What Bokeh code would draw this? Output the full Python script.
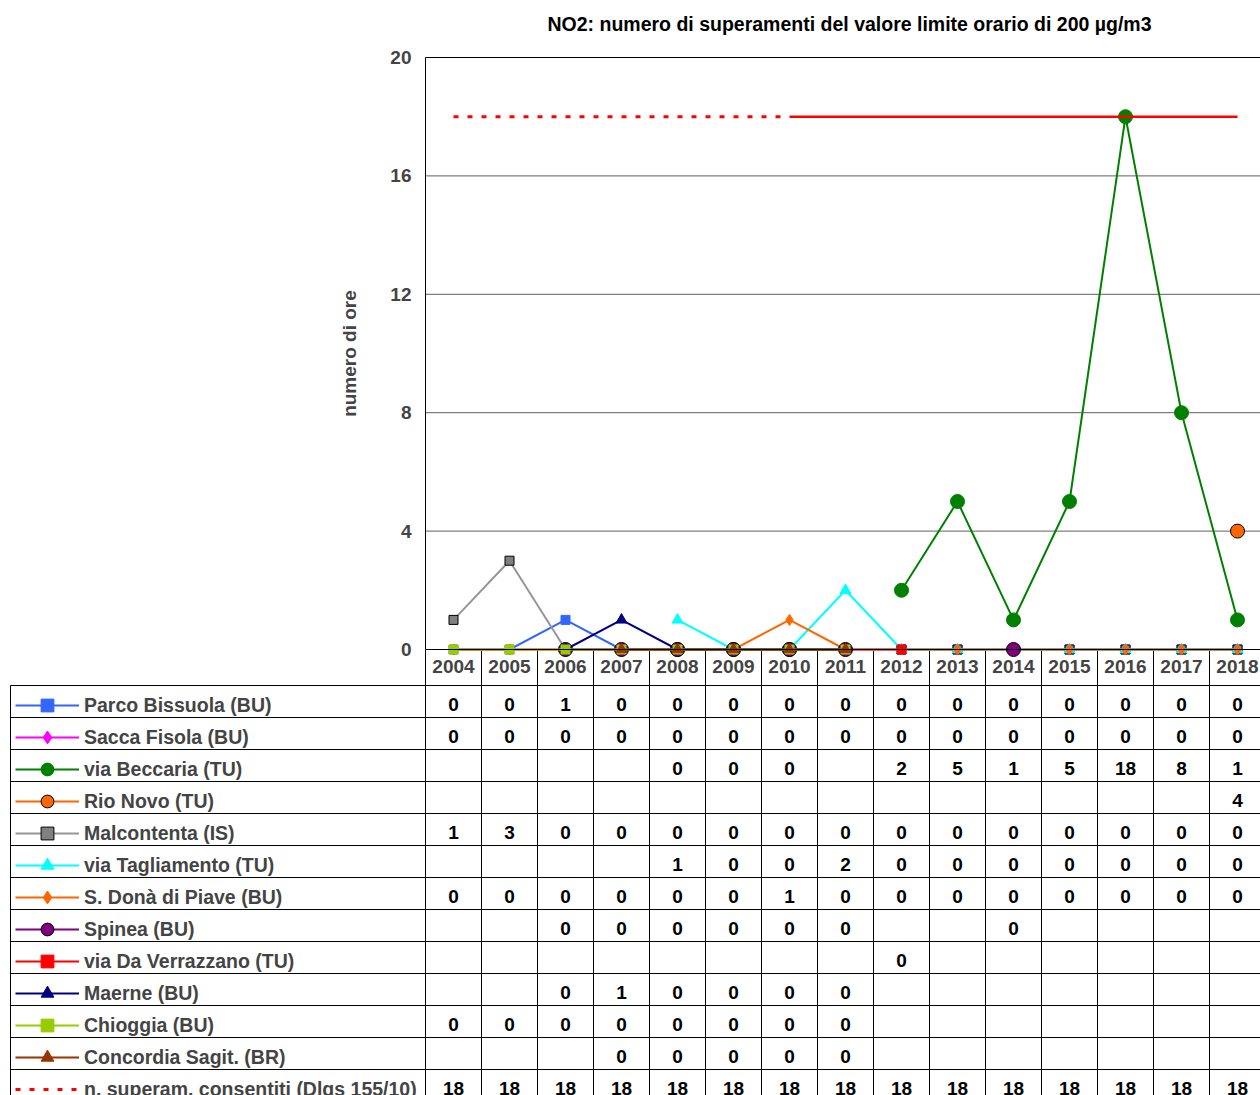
import numpy as np
from bokeh.plotting import figure
from bokeh.models import (Range1d, LinearAxis, FixedTicker, ColumnDataSource,
                          Legend, LegendItem, Title)
from bokeh.core.properties import value
from bokeh.embed import file_html
from bokeh.resources import INLINE

N = np.nan
years = list(range(2004, 2019))
y_ticks = [0, 4, 8, 12, 16, 20]

names = ["Parco Bissuola (BU)", "Sacca Fisola (BU)", "via Beccaria (TU)", "Rio Novo (TU)",
         "Malcontenta (IS)", "via Tagliamento (TU)", "S. Donà di Piave (BU)", "Spinea (BU)",
         "via Da Verrazzano (TU)", "Maerne (BU)", "Chioggia (BU)", "Concordia Sagit. (BR)",
         "n. superam. consentiti (Dlgs 155/10)"]

parco = [0, 0, 1, 0, 0, 0, 0, 0, 0, 0, 0, 0, 0, 0, 0]
sacca = [0, 0, 0, 0, 0, 0, 0, 0, 0, 0, 0, 0, 0, 0, 0]
beccaria = [N, N, N, N, 0, 0, 0, N, 2, 5, 1, 5, 18, 8, 1]
rio_novo = [N, N, N, N, N, N, N, N, N, N, N, N, N, N, 4]
malcontenta = [1, 3, 0, 0, 0, 0, 0, 0, 0, 0, 0, 0, 0, 0, 0]
tagliamento = [N, N, N, N, 1, 0, 0, 2, 0, 0, 0, 0, 0, 0, 0]
san_dona = [0, 0, 0, 0, 0, 0, 1, 0, 0, 0, 0, 0, 0, 0, 0]
spinea = [N, N, 0, 0, 0, 0, 0, 0, N, N, 0, N, N, N, N]
verrazzano = [N, N, N, N, N, N, N, N, 0, N, N, N, N, N, N]
maerne = [N, N, 0, 1, 0, 0, 0, 0, N, N, N, N, N, N, N]
chioggia = [0, 0, 0, 0, 0, 0, 0, 0, N, N, N, N, N, N, N]
concordia = [N, N, N, 0, 0, 0, 0, 0, N, N, N, N, N, N, N]
limite = [18, 18, 18, 18, 18, 18, 18, 18, 18, 18, 18, 18, 18, 18, 18]

series = [parco, sacca, beccaria, rio_novo, malcontenta, tagliamento, san_dona,
          spinea, verrazzano, maerne, chioggia, concordia]

# styles: (line colour, marker, marker size, marker fill, marker outline)
styles = [
    ("#3366FF", "square", 9, "#3366FF", "#3366FF"),
    ("#FF00FF", "diamond", 11, "#FF00FF", "#FF00FF"),
    ("#008000", "circle", 14, "#008000", "#008000"),
    ("#FF6600", "circle", 14, "#FF6600", "#000000"),
    ("#969696", "square", 9, "#808080", "#000000"),
    ("#00FFFF", "triangle", 11, "#00FFFF", "#00FFFF"),
    ("#FF6600", "diamond", 11, "#FF6600", "#FF6600"),
    ("#800080", "circle", 14, "#800080", "#000000"),
    ("#FF0000", "square", 9, "#FF0000", "#FF0000"),
    ("#000080", "triangle", 11, "#000080", "#000080"),
    ("#99CC00", "square", 9, "#99CC00", "#99CC00"),
    ("#993300", "triangle", 11, "#993300", "#993300"),
]

FONT = "Liberation Sans"
FS = "19px"
FS_L = "19.5px"

# ---- layout (pixels) ----
W, H = 1260, 1095
border_top = 38
frame_h = H - border_top
px_year = 56.0
px_unit = 29.6
left_px = 425          # frame x of the first category boundary
zero_px = 649 - border_top   # frame y of value 0
header_px = 36
row_px = 32
legend_left_px = 10    # frame x of the table's left border

x0 = years[0] - 0.5
x_start = x0 - left_px / px_year
x_end = x_start + W / px_year
y_top = zero_px / px_unit
y_bot = -(frame_h - zero_px) / px_unit

p = figure(width=W, height=H, output_backend="svg", toolbar_location=None,
           x_range=Range1d(x_start, x_end), y_range=Range1d(y_bot, y_top),
           x_axis_location=None, y_axis_location=None,
           min_border_left=0, min_border_right=0, min_border_bottom=0,
           min_border_top=border_top)
p.outline_line_color = None
p.xgrid.visible = False
p.ygrid.visible = False
p.background_fill_color = "white"

p.title = Title(text="NO2: numero di superamenti del valore limite orario di 200 µg/m3",
                align="left", offset=547, standoff=8,
                text_font=FONT, text_font_size=FS_L, text_font_style="bold",
                text_color="black")

# gridlines and top border of the plot area
gl = y_ticks[1:-1]
p.segment(x0=[x0] * len(gl), x1=[x_end] * len(gl), y0=gl, y1=gl,
          line_color="#606060", line_width=1)
p.segment(x0=[x0], x1=[x_end], y0=[y_ticks[-1]], y1=[y_ticks[-1]],
          line_color="black", line_width=1)

# ---- table grid ----
n_rows = len(names)
row_bounds = [-(header_px + row_px * k) / px_unit for k in range(n_rows + 1)]
x_tab_left = x_start + legend_left_px / px_year
p.segment(x0=[x_tab_left] * len(row_bounds), x1=[x_end] * len(row_bounds),
          y0=row_bounds, y1=row_bounds, line_color="black", line_width=1)
col_bounds = [y - 0.5 for y in years] + [years[-1] + 0.5]
p.segment(x0=col_bounds, x1=col_bounds, y0=[0] * len(col_bounds), y1=[y_bot] * len(col_bounds),
          line_color="black", line_width=1)
p.segment(x0=[x_tab_left], x1=[x_tab_left], y0=[row_bounds[0]], y1=[y_bot],
          line_color="black", line_width=1)

# ---- series ----
items = []
for name, vals, (lc, mk, sz, fc, oc) in zip(names, series, styles):
    src = ColumnDataSource(dict(x=years, y=vals))
    lr = p.line("x", "y", source=src, line_color=lc, line_width=2)
    sr = p.scatter("x", "y", source=src, marker=mk, size=sz, fill_color=fc,
                   line_color=oc, line_width=1)
    items.append(LegendItem(label=name, renderers=[lr, sr]))

lim_dot = [v if yr <= 2010 else N for yr, v in zip(years, limite)]
lim_sol = [v if yr >= 2010 else N for yr, v in zip(years, limite)]
ld = p.line(years, lim_dot, line_color="#FF0000", line_width=3, line_dash="5 9")
p.line(years, lim_sol, line_color="#FF0000", line_width=2.5)
items.append(LegendItem(label=names[-1], renderers=[ld]))

# ---- axes ----
yax = LinearAxis(fixed_location=x0, bounds=(y_ticks[0], y_ticks[-1]),
                 ticker=FixedTicker(ticks=y_ticks), axis_label="numero di ore",
                 major_tick_out=0, major_tick_in=0, minor_tick_out=0, minor_tick_in=0,
                 major_label_standoff=14, axis_label_standoff=27,
                 axis_line_color="black",
                 major_label_text_font=FONT, major_label_text_font_size=FS,
                 major_label_text_font_style="bold",
                 axis_label_text_font=FONT, axis_label_text_font_size=FS,
                 axis_label_text_font_style="bold")
p.add_layout(yax, "left")

xax = LinearAxis(fixed_location=0, bounds=(x0, x_end),
                 ticker=FixedTicker(ticks=years),
                 major_tick_out=0, major_tick_in=0, minor_tick_out=0, minor_tick_in=0,
                 major_label_standoff=10, axis_line_color="black",
                 major_label_text_font=FONT, major_label_text_font_size=FS,
                 major_label_text_font_style="bold")
p.add_layout(xax, "below")

# ---- table values ----
tx, ty, tt = [], [], []
for k, vals in enumerate(series + [limite]):
    for yr, v in zip(years, vals):
        if not (isinstance(v, float) and np.isnan(v)):
            tx.append(yr)
            ty.append(-(header_px + row_px * k + row_px / 2) / px_unit)
            tt.append(str(int(v)))
p.text(x=tx, y=ty, text=tt, text_align="center", text_baseline="middle", y_offset=3,
       text_font=value(FONT), text_font_size=value(FS), text_font_style="bold",
       text_color="black")

# legend sits in the table's first column; its top 4 px below the first row boundary
legend = Legend(items=items,
                location=(legend_left_px + 5,
                          (frame_h - zero_px - header_px - 4) - row_px * n_rows),
                orientation="vertical", glyph_width=64, glyph_height=32, label_height=32,
                spacing=0, padding=0, margin=0, label_standoff=5,
                border_line_color=None, background_fill_alpha=0,
                label_text_font=FONT, label_text_font_size=FS_L, label_text_font_style="bold")
p.add_layout(legend)

open("out.html", "w").write(file_html(p, INLINE))
